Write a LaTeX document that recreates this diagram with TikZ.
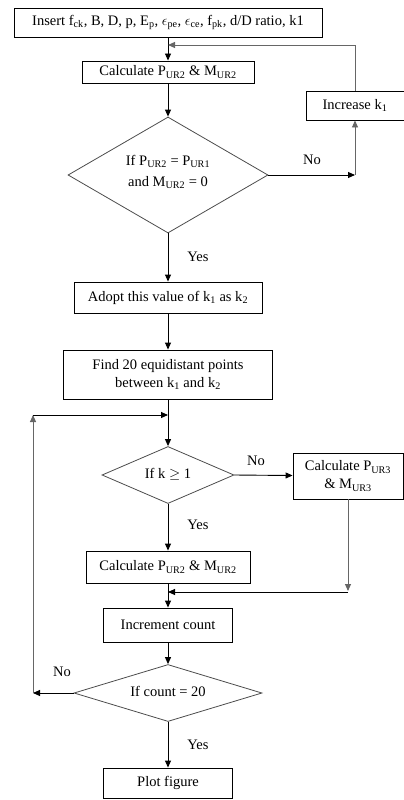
\documentclass[tikz,border=0pt]{standalone}
\usepackage{fontspec}
\setmainfont{Liberation Serif}
\usetikzlibrary{arrows.meta, shapes.geometric}

\newcommand{\sub}[1]{\textsubscript{#1}}

\begin{document}
\begin{tikzpicture}[x=1pt, y=-1pt,
  every node/.style={font=\fontsize{14.5}{16}\selectfont},
  box/.style={draw, line width=0.9pt, inner sep=0pt, align=center},
  decision/.style={diamond, draw=black!70, line width=0.8pt, inner sep=0pt, align=center},
  arr/.style={-{Triangle[length=7pt,width=6pt]}, line width=0.9pt},
  side/.style={arr, draw=black!60}]
  \useasboundingbox (0,0) rectangle (404,800);

  % input and first loop
  \node[box, minimum width=308, minimum height=29] (input) at (168,22.5)
    {Insert f\sub{ck}, B, D, p, E\sub{p}, $\epsilon$\sub{pe}, $\epsilon$\sub{ce}, f\sub{pk}, d/D ratio, k1};
  \node[box, minimum width=172, minimum height=22] (calcA) at (168,72) {Calculate P\sub{UR2} \& M\sub{UR2}};
  \node[box, minimum width=98, minimum height=29] (increase) at (355,105.5) {Increase k\sub{1}};
  \node[decision, minimum width=200, minimum height=116] (checkA) at (168,175) {};
  \node[align=center] (checkAtxt) at (168,172) {If P\sub{UR2} = P\sub{UR1}\\[5pt] and M\sub{UR2} = 0};
  \node (noA) at (312,160) {No};
  \node (yesA) at (198,257) {Yes};
  \node[box, minimum width=188, minimum height=31] (adopt) at (168,297.5) {Adopt this value of k\sub{1} as k\sub{2}};

  \coordinate (feedback) at (168,45);
  \coordinate (noAcorner) at (355,175);
  \draw[arr] (input) -- (calcA);
  \draw[arr] (calcA) -- (checkA);
  \draw[arr] (checkA.east) -- (noAcorner);
  \draw[side] (noAcorner) -- (increase);
  \draw[side] (increase) |- (feedback);
  \draw[arr] (checkA) -- (adopt);

  % second loop
  \node[box, minimum width=209, minimum height=49] (find) at (168,374.5)
    {Find 20 equidistant points\\[2pt] between k\sub{1} and k\sub{2}};
  \node[decision, minimum width=132, minimum height=57] (checkB) at (168,475) {};
  \node (checkBtxt) at (168,474) {If k $\geq$ 1};
  \node (noB) at (256,461) {No};
  \node (yesB) at (198,525) {Yes};
  \node[box, minimum width=110, minimum height=46] (calcC) at (348,476)
    {Calculate P\sub{UR3}\\[2pt] \& M\sub{UR3}};
  \node[box, minimum width=164, minimum height=32] (calcB) at (168,567) {Calculate P\sub{UR2} \& M\sub{UR2}};
  \node[box, minimum width=129, minimum height=34] (count) at (168,625) {Increment count};
  \node[decision, minimum width=188, minimum height=57] (checkC) at (168,693) {};
  \node (checkCtxt) at (168,691) {If count = 20};
  \node (noC) at (62,672) {No};
  \node (yesC) at (198,745) {Yes};
  \node[box, minimum width=129, minimum height=30] (plot) at (168,783) {Plot figure};

  \coordinate (loopin) at (168,415);
  \coordinate (looptop) at (33,415);
  \coordinate (loopbottom) at (33,693);
  \coordinate (mergecorner) at (348,591);
  \coordinate (mergein) at (168,592);
  \draw[arr] (adopt) -- (find);
  \draw[arr] (find) -- (checkB);
  \draw[arr] (checkB.east) -- (calcC);
  \draw[arr] (checkB) -- (calcB);
  \draw[side] (calcC) -- (mergecorner);
  \draw[arr] (mergecorner |- mergein) -- (mergein);
  \draw[arr] (calcB) -- (count);
  \draw[arr] (count) -- (checkC);
  \draw[arr] (checkC.west) -- (loopbottom);
  \draw[side] (loopbottom) -- (looptop);
  \draw[arr] (looptop) -- (loopin);
  \draw[arr] (checkC) -- (plot);
\end{tikzpicture}
\end{document}
